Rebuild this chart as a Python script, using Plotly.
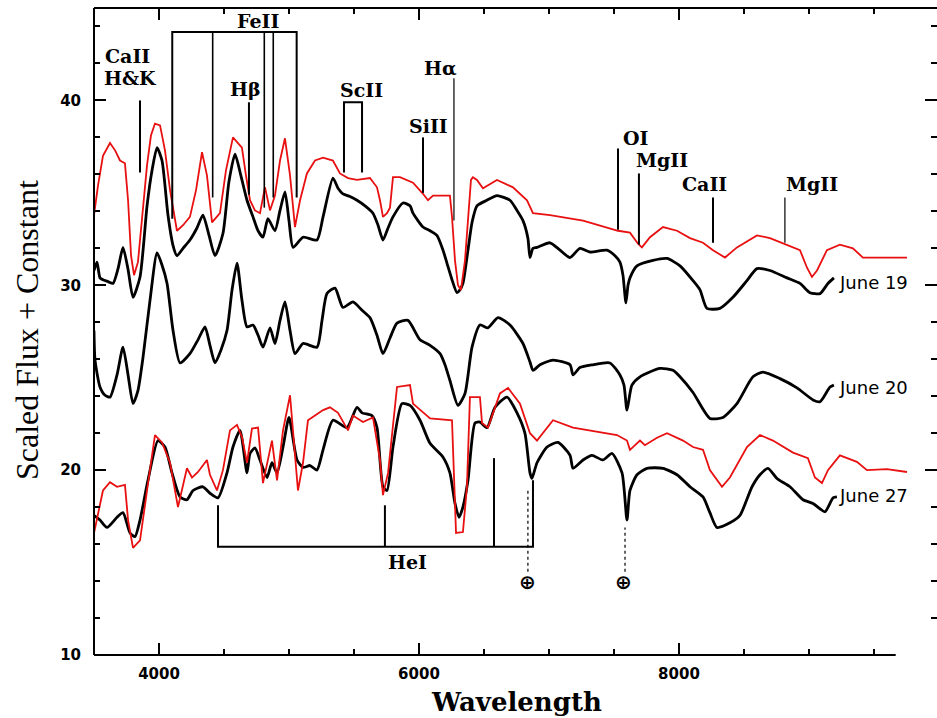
import plotly.graph_objects as go

# ---------------- spectra (wavelength, scaled flux + constant) ----------------
june19_observed = [(3500,30.8),(3523,31.25),(3546,30.4),(3569,30.3),(3608,30.2),(3646,30.1),(3685,30.9),(3723,32.05),(3762,30.85),(3800,29.35),(3854,30.45),(3908,34.3),(3946,36.2),(3985,37.45),(4023,36.75),(4069,33.8),(4108,32.15),(4138,31.6),(4185,32.0),(4238,32.45),(4292,33.1),(4338,33.8),(4385,32.7),(4431,31.6),(4492,32.8),(4538,35.6),(4585,37.1),(4631,35.9),(4677,34.6),(4723,33.7),(4762,32.95),(4800,32.6),(4838,33.6),(4892,32.95),(4931,34.05),(4969,35.05),(5000,33.5),(5031,32.05),(5108,32.6),(5215,32.45),(5262,33.7),(5338,35.8),(5377,35.25),(5415,34.95),(5469,34.8),(5523,34.6),(5585,34.3),(5646,33.9),(5685,33.25),(5723,32.45),(5762,33.1),(5800,33.7),(5877,34.45),(5931,34.3),(5954,33.9),(6031,33.15),(6085,32.95),(6138,32.7),(6185,31.9),(6215,31.2),(6254,30.3),(6292,29.6),(6315,29.75),(6338,30.1),(6377,31.9),(6408,33.4),(6446,34.3),(6523,34.6),(6600,34.85),(6700,34.6),(6754,34.05),(6800,33.5),(6838,32.55),(6854,31.5),(6877,32.0),(6908,32.05),(7008,32.3),(7085,31.9),(7162,31.5),(7238,32.0),(7315,31.8),(7446,31.9),(7508,31.6),(7546,31.25),(7569,30.55),(7592,29.05),(7608,30.0),(7623,30.4),(7677,31.05),(7800,31.35),(7908,31.45),(8008,31.05),(8108,30.25),(8162,29.75),(8215,28.75),(8315,28.75),(8415,29.35),(8523,30.25),(8600,30.9),(8700,30.8),(8831,30.4),(8931,30.1),(9008,29.6),(9085,29.55),(9146,30.1),(9192,30.4)]

june19_comparison = [(3500,33.8),(3531,35.4),(3569,37.0),(3623,37.7),(3662,37.3),(3700,36.75),(3738,36.6),(3762,34.6),(3785,31.6),(3808,30.55),(3838,31.25),(3869,33.5),(3908,36.5),(3938,38.1),(3969,38.75),(4008,38.65),(4046,37.3),(4085,35.15),(4138,32.95),(4185,33.25),(4238,33.7),(4285,35.15),(4331,37.2),(4369,35.95),(4408,33.4),(4469,33.9),(4515,36.2),(4569,38.0),(4638,37.45),(4669,35.95),(4700,34.6),(4738,34.05),(4777,33.9),(4815,35.3),(4854,34.05),(4892,34.85),(4931,36.75),(4969,37.95),(5008,35.95),(5046,33.15),(5085,34.6),(5138,36.05),(5200,36.75),(5262,36.9),(5338,36.75),(5392,36.05),(5454,35.8),(5523,35.7),(5623,35.8),(5677,35.3),(5700,34.6),(5723,33.7),(5754,33.9),(5777,34.2),(5800,35.85),(5854,35.85),(5954,35.55),(6031,34.95),(6069,34.6),(6108,34.85),(6238,34.85),(6254,33.7),(6277,31.35),(6300,30.0),(6323,29.75),(6354,31.35),(6377,33.5),(6400,35.7),(6415,35.85),(6446,35.7),(6492,35.25),(6600,35.7),(6723,35.3),(6831,34.6),(6877,33.9),(7008,33.8),(7262,33.5),(7446,33.15),(7531,32.95),(7623,32.85),(7685,32.25),(7715,32.05),(7777,32.6),(7877,33.15),(7985,32.95),(8085,32.55),(8185,32.3),(8262,31.9),(8354,31.5),(8446,32.05),(8600,32.7),(8700,32.55),(8877,32.05),(8931,31.9),(8985,30.95),(9023,30.45),(9062,30.8),(9138,31.9),(9238,32.2),(9338,32.0),(9415,31.5),(9546,31.5),(9754,31.5)]

june20_observed = [(3500,27.55),(3508,25.95),(3546,24.5),(3585,24.05),(3623,23.95),(3677,25.15),(3723,26.65),(3762,25.15),(3800,23.6),(3838,24.3),(3877,26.1),(3931,29.2),(3985,31.75),(4023,31.1),(4062,30.1),(4108,27.55),(4162,25.8),(4238,26.3),(4300,27.05),(4354,27.75),(4392,26.75),(4431,25.8),(4477,26.5),(4523,27.55),(4562,29.75),(4600,31.2),(4638,29.2),(4677,27.75),(4723,27.85),(4762,27.3),(4800,26.65),(4854,27.7),(4892,26.85),(4931,28.1),(4969,29.1),(5008,27.55),(5046,26.3),(5108,26.85),(5215,26.65),(5254,28.1),(5292,29.55),(5354,29.85),(5415,28.8),(5492,29.1),(5562,28.65),(5623,28.25),(5677,27.3),(5723,26.3),(5777,27.15),(5831,27.95),(5915,28.1),(6008,27.05),(6085,26.75),(6162,26.3),(6200,25.7),(6238,24.85),(6300,23.5),(6354,24.15),(6408,26.65),(6469,27.85),(6531,27.7),(6608,28.25),(6700,27.85),(6800,26.85),(6854,25.85),(6877,25.4),(6931,25.7),(7031,25.95),(7162,25.7),(7185,25.15),(7238,25.55),(7338,25.7),(7469,25.8),(7546,25.15),(7577,24.6),(7600,23.25),(7638,24.6),(7700,25.05),(7854,25.5),(7954,25.4),(8008,25.05),(8108,24.2),(8238,22.8),(8338,22.85),(8446,23.6),(8569,25.05),(8646,25.3),(8777,24.95),(8908,24.45),(9031,23.8),(9085,23.7),(9162,24.5),(9192,24.6)]

june27_observed = [(3500,17.55),(3546,17.3),(3600,16.9),(3677,17.45),(3723,17.7),(3777,16.6),(3815,16.4),(3854,17.3),(3915,19.45),(3992,21.6),(4046,21.25),(4100,19.85),(4162,18.55),(4215,18.4),(4262,18.9),(4338,19.1),(4392,18.75),(4454,18.5),(4523,19.85),(4569,21.25),(4623,22.15),(4677,19.85),(4700,20.9),(4738,21.2),(4777,20.55),(4831,19.6),(4869,20.4),(4908,19.85),(4954,21.25),(5000,22.85),(5062,20.55),(5108,20.15),(5162,20.25),(5215,20.0),(5262,21.1),(5338,22.7),(5446,22.3),(5523,23.4),(5562,23.1),(5638,22.95),(5677,22.3),(5723,19.1),(5754,18.9),(5800,21.25),(5869,23.6),(5931,23.5),(6008,22.7),(6085,21.45),(6185,20.7),(6238,19.85),(6277,18.2),(6308,17.45),(6338,18.0),(6377,19.45),(6431,22.55),(6469,22.6),(6523,22.3),(6585,23.4),(6677,23.95),(6754,23.1),(6815,22.0),(6854,19.85),(6869,19.55),(6908,20.4),(6985,21.25),(7069,21.5),(7162,20.8),(7185,20.1),(7262,20.55),(7331,20.8),(7415,20.55),(7485,20.9),(7562,19.85),(7600,17.3),(7623,18.9),(7677,19.75),(7754,20.1),(7877,20.1),(7985,19.75),(8085,19.1),(8185,18.55),(8238,17.7),(8292,16.9),(8392,17.15),(8469,17.55),(8562,19.1),(8623,19.75),(8685,20.1),(8754,19.55),(8854,19.1),(8954,18.4),(9031,18.2),(9123,17.75),(9185,18.5),(9215,18.55)]

june27_comparison = [(3500,16.6),(3569,18.9),(3623,19.35),(3677,19.1),(3738,19.2),(3762,17.3),(3800,15.8),(3854,16.2),(3908,18.9),(3969,21.9),(4023,21.5),(4085,20.4),(4146,18.0),(4215,20.1),(4254,19.6),(4300,19.9),(4369,20.55),(4392,19.75),(4446,18.9),(4492,20.0),(4546,22.15),(4600,22.45),(4638,21.8),(4677,20.4),(4715,22.25),(4762,22.3),(4800,19.3),(4869,21.6),(4908,19.45),(4954,22.15),(5008,24.05),(5069,18.9),(5108,20.4),(5146,22.7),(5262,23.25),(5315,23.4),(5377,23.1),(5454,22.15),(5492,22.95),(5569,22.6),(5646,22.85),(5700,20.55),(5723,18.65),(5762,19.85),(5831,24.5),(5931,24.6),(5954,23.6),(6085,22.8),(6254,22.7),(6262,21.25),(6285,16.6),(6338,16.65),(6369,19.1),(6392,23.95),(6469,23.95),(6485,22.55),(6531,22.3),(6623,24.15),(6685,24.45),(6777,23.6),(6854,22.0),(6908,21.6),(7031,22.7),(7185,22.3),(7392,22.05),(7523,21.9),(7600,21.6),(7623,21.1),(7646,21.25),(7700,21.6),(7738,21.35),(7831,21.75),(7908,22.0),(8031,21.6),(8108,21.25),(8185,21.1),(8238,20.0),(8331,19.1),(8392,19.6),(8523,21.25),(8623,21.9),(8723,21.6),(8877,20.95),(8992,20.65),(9046,19.6),(9100,19.3),(9146,20.0),(9238,20.8),(9369,20.45),(9446,20.0),(9600,20.05),(9754,19.9)]

# ---------------- line identifications ----------------
single_id_wl = [3854, 4692, 6031, 6269, 7531, 7692, 8262, 8815]
single_id_bottom = [36.1, 34.9, 35.0, 33.5, 33.0, 32.2, 32.3, 32.3]
single_id_top = [40.0, 39.9, 38.0, 41.2, 37.4, 36.05, 34.75, 34.75]
single_id_width = [2, 2, 2, 1.2, 2, 2, 2, 1.2]

feii_wl = [4102, 4413, 4810, 4879, 5059]
feii_bottom = [33.6, 34.75, 34.2, 34.75, 34.75]
feii_top = 43.7

scii_wl = [5423, 5562]
scii_bottom = 36.1
scii_top = 39.9

hei_wl = [4454, 5738, 6577, 6877]
hei_top = [18.1, 18.1, 20.65, 19.45]
hei_bar = 15.85

telluric_wl = [6838, 7585]
telluric_top = [19.0, 16.9]
telluric_bottom = 14.5
telluric_symbol_wl = [6831, 7577]
telluric_symbol_y = 13.95

id_labels = ["CaII", "H&amp;K", "FeII", "Hβ", "ScII", "SiII", "Hα", "OI", "MgII", "CaII", "MgII", "HeI"]
id_label_wl = [3754, 3777, 4762, 4669, 5554, 6077, 6169, 7669, 7869, 8200, 9023, 5915]
id_label_y = [42.38, 41.19, 44.32, 40.6, 40.54, 38.6, 41.73, 37.95, 36.76, 35.46, 35.46, 15.03]

epoch_labels = ["June 19", "June 20", "June 27"]
epoch_label_wl = [9215, 9215, 9215]
epoch_label_y = [30.16, 24.49, 18.65]

x_major = [4000, 6000, 8000]
y_major = [10, 20, 30, 40]

RED = "#e81010"
BLACK = "#000000"

fig = go.Figure()

def add_spec(pairs, color, width, shape="linear"):
    xs = [p[0] for p in pairs]
    ys = [p[1] for p in pairs]
    fig.add_trace(go.Scatter(x=xs, y=ys, mode="lines",
                             line=dict(color=color, width=width, shape=shape,
                                       smoothing=0.6 if shape == "spline" else None),
                             hoverinfo="skip", showlegend=False))

add_spec(june19_observed, BLACK, 2.8, "spline")
add_spec(june20_observed, BLACK, 2.8, "spline")
add_spec(june27_observed, BLACK, 2.8, "spline")
add_spec(june19_comparison, RED, 1.8)
add_spec(june27_comparison, RED, 1.8)

def add_path(xs, ys, width=2, dash="solid"):
    fig.add_trace(go.Scatter(x=xs, y=ys, mode="lines",
                             line=dict(color=BLACK, width=width, dash=dash),
                             hoverinfo="skip", showlegend=False))

# single ticks
for w, b, t, lw in zip(single_id_wl, single_id_bottom, single_id_top, single_id_width):
    add_path([w, w], [b, t], lw)

# FeII bracket
add_path([feii_wl[0], feii_wl[0], feii_wl[-1], feii_wl[-1]],
         [feii_bottom[0], feii_top, feii_top, feii_bottom[-1]])
for w, b in zip(feii_wl[1:-1], feii_bottom[1:-1]):
    add_path([w, w], [b, feii_top], 1.6)

# ScII bracket
add_path([scii_wl[0], scii_wl[0], scii_wl[1], scii_wl[1]],
         [scii_bottom, scii_top, scii_top, scii_bottom])

# HeI bracket
add_path([hei_wl[0], hei_wl[0], hei_wl[-1], hei_wl[-1]],
         [hei_top[0], hei_bar, hei_bar, hei_top[-1]])
for w, t in zip(hei_wl[1:-1], hei_top[1:-1]):
    add_path([w, w], [hei_bar, t], 2)

# telluric
for w, t in zip(telluric_wl, telluric_top):
    add_path([w, w], [telluric_bottom, t], 1.2, "dot")

annotations = []
for txt, w, y in zip(id_labels, id_label_wl, id_label_y):
    annotations.append(dict(x=w, y=y, xref="x", yref="y", text=txt, showarrow=False,
                            xanchor="center", yanchor="middle",
                            font=dict(family="DejaVu Serif", size=19, color=BLACK, weight="bold")))
for w in telluric_symbol_wl:
    annotations.append(dict(x=w, y=telluric_symbol_y, xref="x", yref="y", text="⊕", showarrow=False,
                            xanchor="center", yanchor="middle",
                            font=dict(family="DejaVu Sans", size=20, color=BLACK, weight="bold")))
for txt, w, y in zip(epoch_labels, epoch_label_wl, epoch_label_y):
    annotations.append(dict(x=w, y=y, xref="x", yref="y", text=txt, showarrow=False,
                            xanchor="left", yanchor="middle",
                            font=dict(family="DejaVu Sans", size=18, color=BLACK)))

annotations.append(dict(x=0, y=0.5023, xref="paper", yref="paper", xshift=-67,
                        text="Scaled Flux + Constant", textangle=-90, showarrow=False,
                        xanchor="center", yanchor="middle",
                        font=dict(family="Liberation Serif", size=32, color=BLACK)))
annotations.append(dict(x=0.5006, y=-0.0726, xref="paper", yref="paper",
                        text="Wavelength", showarrow=False,
                        xanchor="center", yanchor="middle",
                        font=dict(family="DejaVu Serif", size=26, color=BLACK, weight="bold")))

shapes = [
    dict(type="line", xref="paper", yref="paper", x0=0, x1=0, y0=0, y1=1,
         line=dict(color=BLACK, width=2)),
    dict(type="line", xref="paper", yref="paper", x0=0, x1=1.0, y0=1, y1=1,
         line=dict(color=BLACK, width=2)),
    dict(type="line", xref="paper", yref="paper", x0=0, x1=0.951, y0=0, y1=0,
         line=dict(color=BLACK, width=2)),
]

tickfont = dict(family="DejaVu Sans", size=15, color=BLACK, weight="bold")

fig.update_layout(
    width=937, height=718,
    margin=dict(l=94, r=0, t=8, b=63),
    paper_bgcolor="white", plot_bgcolor="white",
    showlegend=False,
    annotations=annotations,
    shapes=shapes,
    xaxis=dict(range=[3500, 9985], tickvals=x_major, ticktext=[str(v) for v in x_major],
               ticks="inside", ticklen=12, tickwidth=2, tickcolor=BLACK,
               mirror="ticks", showline=False, showgrid=False, zeroline=False,
               minor=dict(dtick=500, tick0=3500, ticks="inside", ticklen=6, tickwidth=2,
                          tickcolor=BLACK, showgrid=False),
               tickfont=tickfont, ticklabelstandoff=8),
    yaxis=dict(range=[10, 45], tickvals=y_major, ticktext=[str(v) for v in y_major],
               ticks="inside", ticklen=12, tickwidth=2, tickcolor=BLACK,
               mirror="ticks", showline=False, showgrid=False, zeroline=False,
               minor=dict(dtick=2, tick0=10, ticks="inside", ticklen=6, tickwidth=2,
                          tickcolor=BLACK, showgrid=False),
               tickfont=tickfont, ticklabelstandoff=12),
)

fig.write_html("out.html")
